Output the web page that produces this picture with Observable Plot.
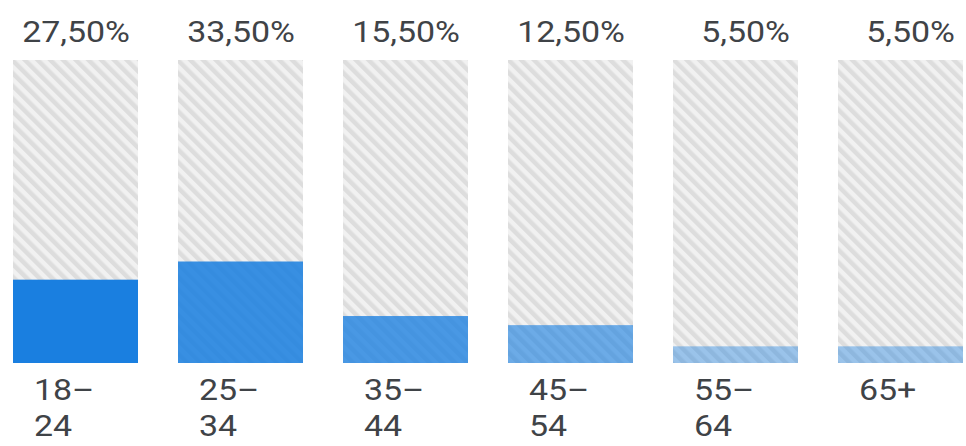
<!DOCTYPE html>
<html>
<head>
<meta charset="utf-8">
<script src="https://cdn.jsdelivr.net/npm/d3@7"></script>
<script src="https://cdn.jsdelivr.net/npm/@observablehq/plot@0.6"></script>
<style>
  html, body { margin: 0; padding: 0; background: #ffffff; }
  #chart { width: 966px; height: 446px; overflow: hidden; }
</style>
</head>
<body>
<div id="chart"></div>
<script>
// ---- data ----
const ages = ["18–24", "25–34", "35–44", "45–54", "55–64", "65+"];
const shares = [27.5, 33.5, 15.5, 12.5, 5.5, 5.5];
const total = 100;

// ---- styling ----
const barShades = [
  "rgba(26,127,224,1)",
  "rgba(26,127,224,0.86)",
  "rgba(26,127,224,0.78)",
  "rgba(26,127,224,0.62)",
  "rgba(26,127,224,0.40)",
  "rgba(26,127,224,0.40)"
];
const textColor = "#3f4347";
const fontSize = 29;
const stretch = 1.17;

const rows = ages.map((a, i) => ({age: a, share: shares[i]}));
const fmt = v => d3.format(".2f")(v).replace(".", ",").padStart(5, "\u2007") + "%";
const wrapLabel = a => a.includes("–") ? a.replace("–", "–\n") : a;

const plot = Plot.plot({
  width: 966,
  height: 446,
  marginTop: 60,
  marginBottom: 83,
  marginLeft: 12,
  marginRight: 1,
  style: {fontFamily: "Roboto, sans-serif", background: "#ffffff"},
  x: {type: "band", domain: ages, paddingInner: 0.2417, paddingOuter: 0, axis: null},
  y: {domain: [0, total], axis: null},
  color: {type: "ordinal", domain: ages, range: barShades},
  marks: [
    Plot.barY(rows, {x: "age", y: () => total, fill: "url(#hatch)"}),
    Plot.barY(rows, {x: "age", y: "share", fill: "age"}),
    Plot.text(rows, {
      x: "age", text: d => fmt(d.share), frameAnchor: "top", lineAnchor: "middle",
      dy: -28, fontSize: fontSize, fill: textColor, textAnchor: "middle"
    }),
    Plot.text(rows, {
      x: "age", text: d => wrapLabel(d.age), frameAnchor: "bottom", lineAnchor: "top",
      dy: 11, dx: -42, lineHeight: 1.24, fontSize: fontSize, fill: textColor, textAnchor: "start"
    })
  ]
});

// hatch pattern for the 100% background
const ns = "http://www.w3.org/2000/svg";
const defs = document.createElementNS(ns, "defs");
const pat = document.createElementNS(ns, "pattern");
pat.setAttribute("id", "hatch");
pat.setAttribute("patternUnits", "userSpaceOnUse");
pat.setAttribute("width", "9");
pat.setAttribute("height", "9");
pat.setAttribute("patternTransform", "rotate(-45)");
const bg = document.createElementNS(ns, "rect");
bg.setAttribute("width", "9"); bg.setAttribute("height", "9"); bg.setAttribute("fill", "#f1f1f1");
const st = document.createElementNS(ns, "rect");
st.setAttribute("width", "4.5"); st.setAttribute("height", "9"); st.setAttribute("fill", "#dddddd");
pat.appendChild(bg); pat.appendChild(st);
defs.appendChild(pat);
plot.insertBefore(defs, plot.firstChild);

// horizontal stretch of the label glyphs (keeps anchor points)
plot.querySelectorAll("g[aria-label='text'] text").forEach(t => {
  let tr = t.getAttribute("transform");
  if (!tr) {
    const x = +(t.getAttribute("x") || 0), y = +(t.getAttribute("y") || 0);
    t.removeAttribute("x"); t.removeAttribute("y");
    tr = `translate(${x},${y})`;
  }
  t.setAttribute("transform", tr + ` scale(${stretch},1)`);
});

document.getElementById("chart").appendChild(plot);
</script>
</body>
</html>
